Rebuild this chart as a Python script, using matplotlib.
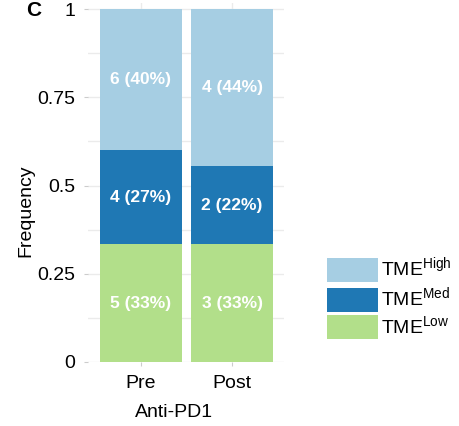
import matplotlib.pyplot as plt
import matplotlib as mpl
import numpy as np

# Data: counts per TME group before / after anti-PD1
groups = ['Pre', 'Post']
tme_low = [5, 3]
tme_med = [4, 2]
tme_high = [6, 4]

series = [
    ('TME$^{\\mathrm{Low}}$', tme_low, '#b2df8a'),
    ('TME$^{\\mathrm{Med}}$', tme_med, '#1f78b4'),
    ('TME$^{\\mathrm{High}}$', tme_high, '#a6cee3'),
]

mpl.rcParams['font.family'] = 'Liberation Sans'
mpl.rcParams['mathtext.fontset'] = 'custom'
mpl.rcParams['mathtext.rm'] = 'Liberation Sans'

totals = np.array(tme_low) + np.array(tme_med) + np.array(tme_high)
x = np.arange(1, len(groups) + 1)

fig = plt.figure(figsize=(4.59, 4.26), dpi=100)
ax = fig.add_axes([88 / 459, 1 - 362 / 426, 196 / 459, 359 / 426])

bottom = np.zeros(len(groups))
handles = []
for label, counts, color in series:
    frac = np.array(counts) / totals
    bars = ax.bar(x, frac, width=0.9, bottom=bottom, color=color, label=label, zorder=2)
    handles.append(bars)
    for xi, f, c, b in zip(x, frac, counts, bottom):
        ax.text(xi, b + f / 2, f'{c} ({round(f * 100):.0f}%)', ha='center', va='center',
                color='white', fontsize=12.5, fontweight='bold', zorder=3)
    bottom += frac

ax.set_xlim(0.42, 2.57)
ax.set_ylim(0, 1.017)
ax.set_xticks(x)
ax.set_xticklabels(groups, fontsize=14)
ax.set_yticks([0, 0.25, 0.5, 0.75, 1])
ax.set_yticklabels(['0', '0.25', '0.5', '0.75', '1'], fontsize=14)
ax.set_yticks(np.arange(0.125, 1, 0.25), minor=True)
ax.grid(True, which='both', color='#ebebeb', linewidth=1, zorder=0)
ax.set_axisbelow(True)
ax.tick_params(axis='both', which='major', color='#cccccc', length=3, pad=6)
ax.tick_params(axis='both', which='minor', length=0)
for s in ax.spines.values():
    s.set_visible(False)

ax.set_xlabel('Anti-PD1', fontsize=14, labelpad=9, x=0.44)
ax.set_ylabel('Frequency', fontsize=14, labelpad=2, y=0.42)

# legend: high on top
ax.legend(handles[::-1], [s[0] for s in series][::-1], loc='upper left',
          bbox_to_anchor=(327 / 459, 1 - 256 / 426), bbox_transform=fig.transFigure,
          frameon=False, fontsize=14, handlelength=2.6, handleheight=1.5,
          labelspacing=0.18, handletextpad=0.2, borderpad=0, borderaxespad=0)

# panel letter
fig.text(26 / 459, 1 - 10 / 426, 'C', fontsize=15, fontweight='bold', va='center')

plt.savefig('out.png', dpi=100)
